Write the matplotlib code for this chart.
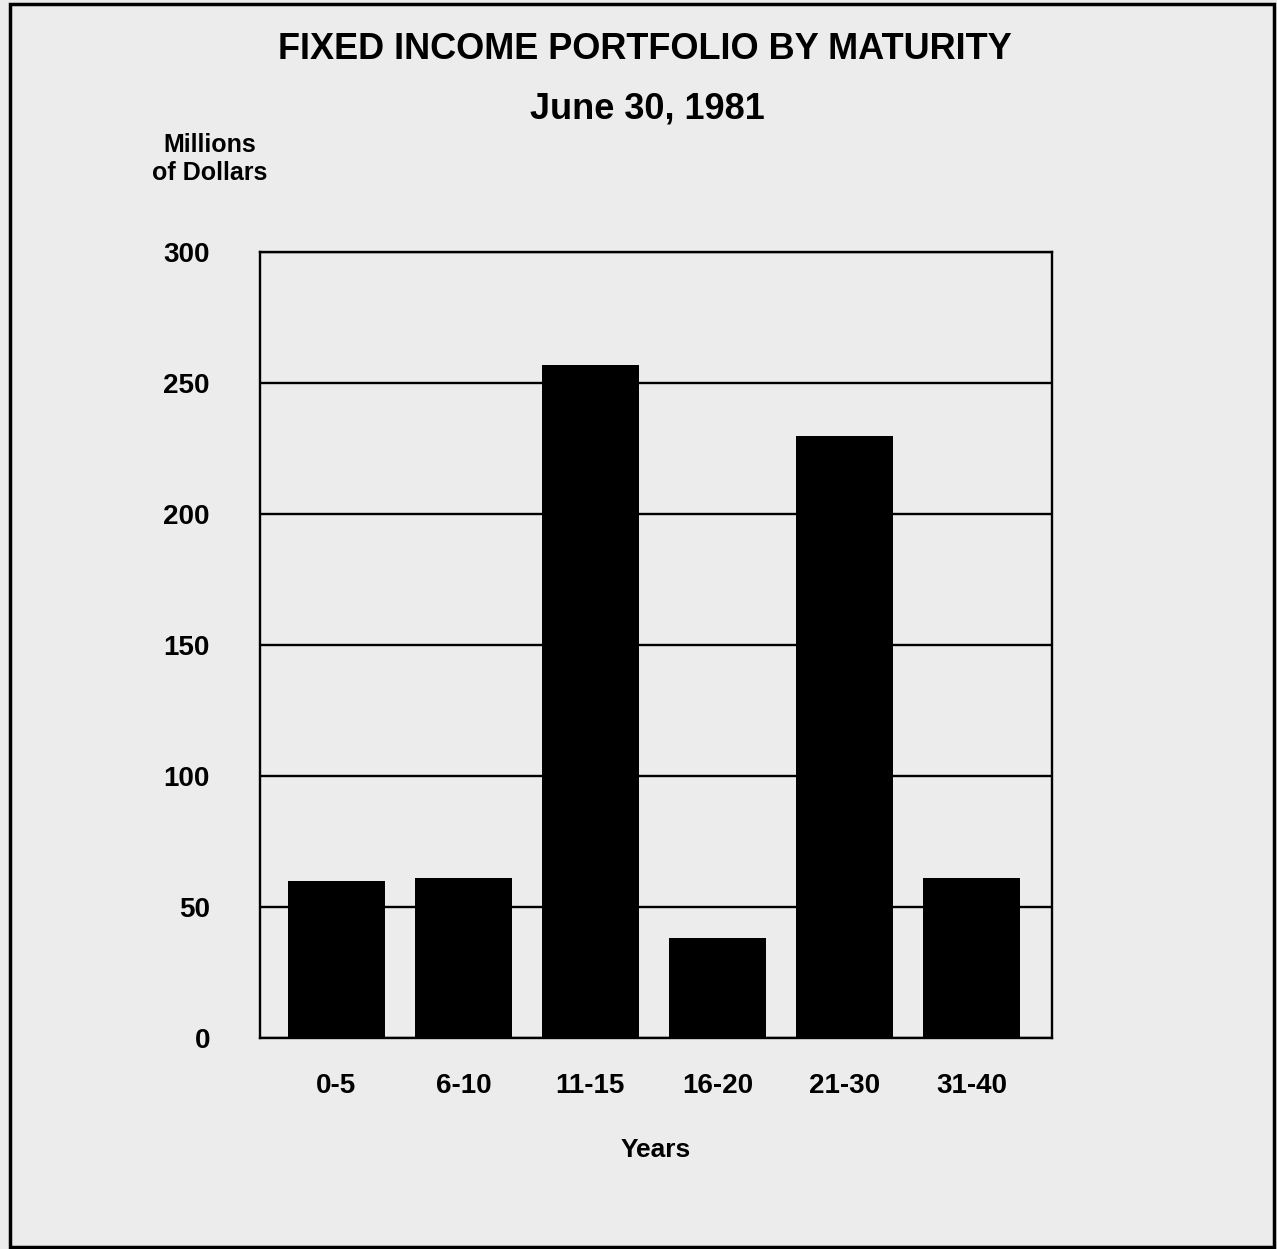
import matplotlib.pyplot as plt
from matplotlib.patches import Rectangle

# portfolio holdings by years to maturity, millions of dollars
maturity = ['0-5', '6-10', '11-15', '16-20', '21-30', '31-40']
holdings = [60, 61, 257, 38, 230, 61]
y_ticks = [0, 50, 100, 150, 200, 250, 300]

plt.rcParams['font.family'] = ['Liberation Sans', 'DejaVu Sans']
plt.rcParams['font.weight'] = 'bold'

paper = '#ececec'
fig = plt.figure(figsize=(12.77, 12.49), dpi=100, facecolor=paper)
ax = fig.add_axes([0.2036, 0.169, 0.620, 0.629], facecolor=paper)

x = range(len(maturity))
ax.bar(x, holdings, width=0.76, color='black', zorder=3)

ax.set_xlim(-0.6, 5.63)
ax.set_ylim(0, 300)
ax.set_yticks(y_ticks)
ax.set_xticks(list(x))
ax.set_xticklabels(maturity)
ax.tick_params(axis='both', length=0, labelsize=20)
ax.tick_params(axis='y', pad=36)
ax.tick_params(axis='x', pad=25)
for lbl in ax.get_xticklabels() + ax.get_yticklabels():
    lbl.set_fontweight('bold')

ax.yaxis.grid(True, color='black', linewidth=1.7, zorder=1)
ax.set_axisbelow(True)
for s in ax.spines.values():
    s.set_linewidth(1.7)
    s.set_color('black')

ax.set_xlabel('Years', fontsize=19, fontweight='bold', labelpad=28)

fig.text(0.505, 0.96, 'FIXED INCOME PORTFOLIO BY MATURITY', ha='center', va='center',
         fontsize=26, fontweight='bold')
fig.text(0.507, 0.913, 'June 30, 1981', ha='center', va='center',
         fontsize=26, fontweight='bold')
fig.text(0.164, 0.873, 'Millions\nof Dollars', ha='center', va='center',
         fontsize=18, fontweight='bold', linespacing=1.2)

# outer frame of the page
fig.patches.append(Rectangle((0.008, 0.002), 0.99, 0.995, transform=fig.transFigure,
                             fill=False, edgecolor='black', linewidth=2.5))

fig.savefig('out.png', dpi=100, facecolor=paper)
